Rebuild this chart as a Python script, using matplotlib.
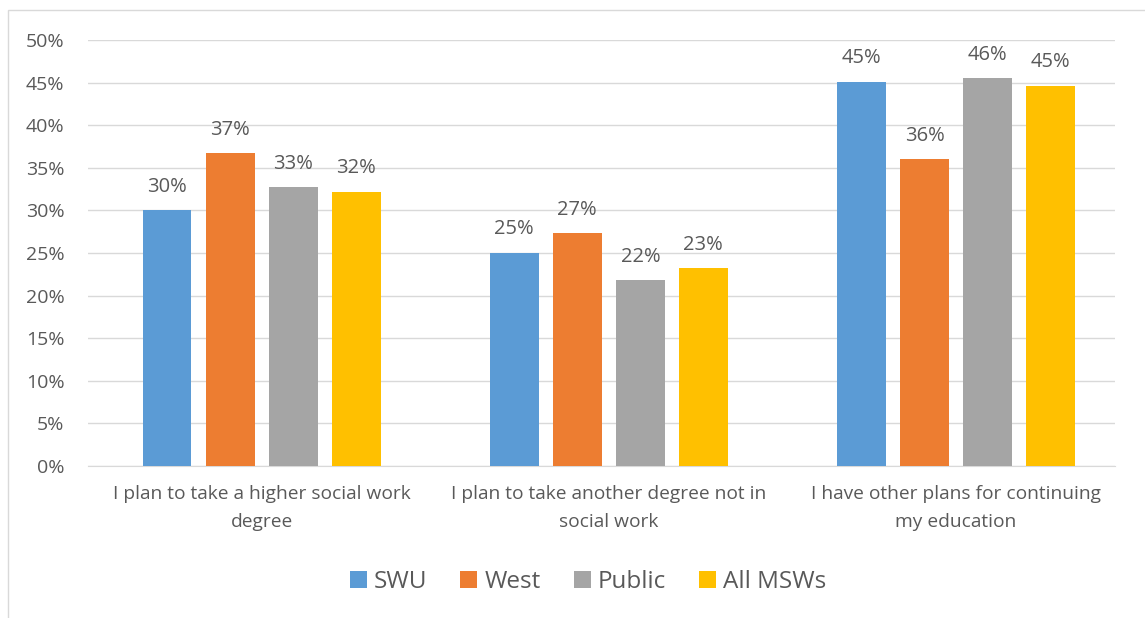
import matplotlib.pyplot as plt
import numpy as np
from matplotlib.patches import Rectangle

categories = ["I plan to take a higher social work\ndegree",
              "I plan to take another degree not in\nsocial work",
              "I have other plans for continuing\nmy education"]
series = ["SWU", "West", "Public", "All MSWs"]
swu = [30.0, 25.0, 45.1]
west = [36.7, 27.3, 36.0]
public = [32.7, 21.8, 45.5]
all_msw = [32.2, 23.2, 44.6]
colors = ["#5B9BD5", "#ED7D31", "#A5A5A5", "#FFC000"]
text_color = '#595959'

plt.rcParams['font.family'] = ['Open Sans', 'DejaVu Sans']

fig = plt.figure(figsize=(11.45, 6.18), dpi=100)
ax = fig.add_axes([88 / 1145, 152 / 618, 1027 / 1145, 426 / 618])

x = np.arange(len(categories))
width = 0.141
step = 0.1816
for i, (name, vals) in enumerate(zip(series, [swu, west, public, all_msw])):
    pos = x + (i - 1.5) * step
    ax.bar(pos, vals, width, color=colors[i], label=name, zorder=3)
    for p, v in zip(pos, vals):
        ax.text(p, v + 1.6, f"{round(v):.0f}%", ha='center', va='bottom',
                fontsize=14.5, color=text_color)

ax.set_xlim(-0.5, 2.458)
ax.set_ylim(0, 50)
ax.set_yticks(range(0, 51, 5))
ax.set_yticklabels([f"{t}%" for t in range(0, 51, 5)])
ax.set_xticks(x)
ax.set_xticklabels(categories, linespacing=1.65)
ax.tick_params(axis='both', length=0, labelcolor=text_color)
ax.tick_params(axis='y', pad=17, labelsize=14)
ax.tick_params(axis='x', pad=14, labelsize=13.8)
ax.grid(axis='y', color='#D9D9D9', linewidth=1, zorder=0)
for s in ['top', 'right', 'left']:
    ax.spines[s].set_visible(False)
ax.spines['bottom'].set_color('#D9D9D9')

fig.legend(loc='center', bbox_to_anchor=(588 / 1145, 1 - 582 / 618), ncol=4,
           frameon=False, fontsize=17.5, handlelength=0.7, handleheight=0.7,
           columnspacing=1.35, handletextpad=0.3, labelcolor=text_color)

fig.patches.append(Rectangle((8 / 1145, -0.1), 1.2, 0.1 + (618 - 10) / 618,
                             transform=fig.transFigure, fill=False,
                             edgecolor='#D9D9D9', linewidth=1))

fig.savefig("out.png", dpi=100)
